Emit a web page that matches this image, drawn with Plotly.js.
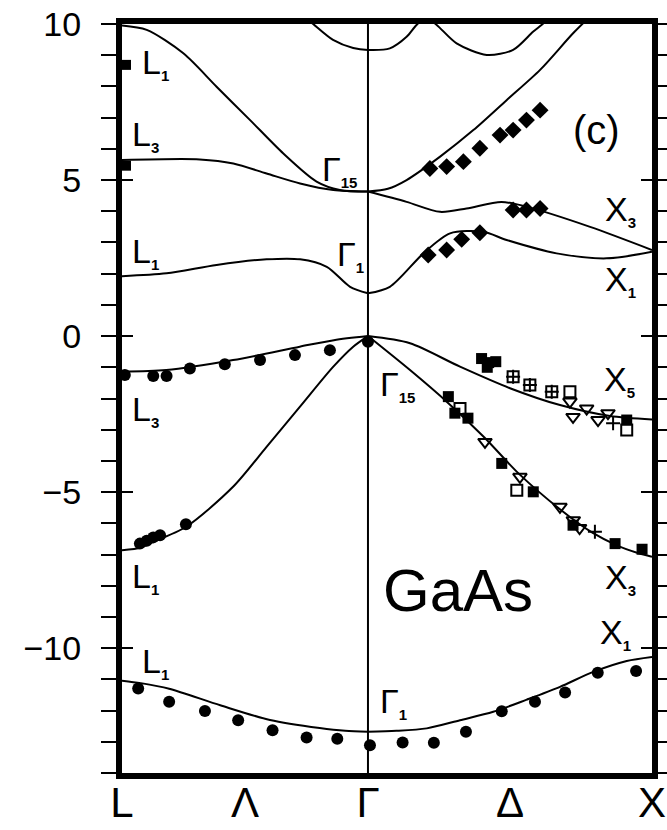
<!DOCTYPE html>
<html>
<head>
<meta charset="utf-8">
<script src="https://cdn.plot.ly/plotly-3.0.1.min.js"></script>
<style>
html,body{margin:0;padding:0;background:#fff;}
#chart{width:667px;height:830px;}
</style>
</head>
<body>
<div id="chart"></div>
<script>
// ---- symmetry points (k in units of 2pi/a, Gamma at 0) ----
const symX = [-0.866, -0.433, 0, 0.5, 1];
const symLabels = ['L', 'Λ', 'Γ', 'Δ', 'X'];
const yTickVals = [-10, -5, 0, 5, 10];

// ---- calculated bands (eV) ----
const v1Lx = [-0.866, -0.80, -0.70, -0.52, -0.345, -0.17, -0.08, 0];
const v1Ly = [-11.04, -11.12, -11.3, -11.83, -12.3, -12.56, -12.65, -12.68];
const v1Rx = [0, 0.10, 0.207, 0.324, 0.441, 0.559, 0.676, 0.793, 0.911, 1];
const v1Ry = [-12.68, -12.65, -12.57, -12.31, -12.04, -11.65, -11.24, -10.76, -10.41, -10.28];

const v2Lx = [-0.866, -0.80, -0.77, -0.64, -0.475, -0.357, -0.24, -0.122, -0.052, 0];
const v2Ly = [-6.86, -6.78, -6.65, -6.11, -4.83, -3.55, -2.27, -0.98, -0.34, 0];
const v2Rx = [0, 0.148, 0.283, 0.41, 0.53, 0.676, 0.79, 0.88, 0.95, 1];
const v2Ry = [0, -1.09, -2.15, -3.25, -4.4, -5.55, -6.3, -6.72, -6.95, -7.07];

const v3Lx = [-0.866, -0.71, -0.475, -0.24, -0.12, 0];
const v3Ly = [-1.14, -1.09, -0.77, -0.34, -0.13, 0];
const v3Rx = [0, 0.148, 0.324, 0.5, 0.676, 0.852, 1];
const v3Ry = [0, -0.23, -0.98, -1.67, -2.21, -2.56, -2.67];

const c1Lx = [-0.866, -0.709, -0.533, -0.357, -0.239, -0.145, -0.063, 0];
const c1Ly = [1.92, 2.01, 2.28, 2.46, 2.46, 2.22, 1.58, 1.37];
const c1Rx = [0, 0.077, 0.195, 0.289, 0.406, 0.488, 0.664, 0.84, 1];
const c1Ry = [1.37, 1.58, 2.65, 3.29, 3.34, 3.08, 2.65, 2.49, 2.70];

const c2Rx = [0, 0.136, 0.254, 0.347, 0.47, 0.56, 0.782, 1];
const c2Ry = [4.63, 4.30, 3.98, 4.09, 4.30, 4.14, 3.50, 2.76];

const c3Lx = [-0.866, -0.592, -0.474, -0.357, -0.239, -0.122, 0];
const c3Ly = [5.64, 5.66, 5.53, 5.21, 4.89, 4.68, 4.63];
const c3Rx = [0, 0.07, 0.136, 0.254, 0.371, 0.488, 0.606, 0.723, 0.80];
const c3Ry = [4.63, 4.72, 5.0, 5.75, 6.60, 7.56, 8.53, 9.71, 10.4];

const c4Lx = [-0.866, -0.779, -0.65, -0.533, -0.415, -0.298, -0.181, -0.099, 0];
const c4Ly = [9.95, 9.81, 9.06, 7.99, 6.92, 5.85, 4.95, 4.68, 4.63];

const c5x = [-0.22, -0.193, -0.123, -0.052, 0, 0.077, 0.136, 0.171, 0.205, 0.242, 0.312, 0.418, 0.511, 0.581, 0.611, 0.64];
const c5y = [10.2, 10.0, 9.49, 9.23, 9.17, 9.22, 9.59, 9.97, 10.2, 9.97, 9.38, 9.01, 9.17, 9.75, 9.97, 10.2];

// ---- experimental points ----
const circX = [-0.856, -0.756, -0.709, -0.627, -0.504, -0.380, -0.257, -0.134, 0.0,
               -0.867, -0.803, -0.779, -0.756, -0.732, -0.641,
               -0.809, -0.700, -0.574, -0.457, -0.336, -0.216, -0.108, 0.007, 0.122, 0.232, 0.345, 0.471, 0.588, 0.694, 0.809, 0.944];
const circY = [-1.25, -1.28, -1.28, -1.04, -0.90, -0.77, -0.61, -0.45, -0.18,
               -6.65, -6.65, -6.56, -6.45, -6.38, -6.03,
               -11.29, -11.72, -12.01, -12.31, -12.63, -12.86, -12.90, -13.11, -13.02, -13.03, -12.68, -12.02, -11.72, -11.42, -10.79, -10.73];

const diaX = [0.218, 0.277, 0.336, 0.394, 0.465, 0.511, 0.558, 0.606, 0.511, 0.558, 0.606, 0.212, 0.277, 0.330, 0.394];
const diaY = [5.37, 5.43, 5.59, 6.02, 6.44, 6.60, 6.92, 7.24, 4.04, 4.04, 4.09, 2.60, 2.76, 3.10, 3.31];

const edgeX = [-0.852, -0.852];
const edgeY = [8.69, 5.46];

const sqFillX = [0.400, 0.425, 0.450, 0.420, 0.911, 0.283, 0.306, 0.352, 0.471, 0.582, 0.722, 0.870, 0.965];
const sqFillY = [-0.72, -0.85, -0.82, -1.00, -2.69, -1.94, -2.47, -2.63, -4.08, -4.99, -6.06, -6.65, -6.83];
const sqOpenX = [0.511, 0.570, 0.647, 0.711, 0.911, 0.324, 0.524];
const sqOpenY = [-1.30, -1.57, -1.78, -1.78, -3.01, -2.32, -4.94];
const triX = [0.711, 0.722, 0.770, 0.810, 0.845, 0.412, 0.535, 0.676, 0.723, 0.745];
const triY = [-2.10, -2.59, -2.32, -2.69, -2.47, -3.39, -4.51, -5.47, -5.90, -6.15];
const crossX = [0.511, 0.570, 0.647, 0.863, 0.799];
const crossY = [-1.30, -1.57, -1.78, -2.79, -6.27];

// ---- labels ----
const labelTexts = ['L|1', 'L|3', 'Γ|15', 'L|1', 'Γ|1', 'X|3', 'X|1', 'X|5', 'Γ|15', 'L|3', 'L|1', 'X|3', 'X|1', 'L|1', 'Γ|1'];
const labelX = [-0.803, -0.838, -0.169, -0.838, -0.116, 0.827, 0.827, 0.824, 0.035, -0.838, -0.838, 0.827, 0.810, -0.803, 0.035];
const labelY = [8.75, 6.42, 5.30, 2.67, 2.58, 4.02, 1.77, -1.43, -1.59, -2.39, -7.74, -7.78, -9.54, -10.47, -11.75];

const FONT = 'Liberation Sans, Arial, sans-serif';

function band(x, y, axis) {
  const t = {x: x, y: y, mode: 'lines', type: 'scatter', hoverinfo: 'skip',
    line: {color: 'black', width: 2, shape: 'spline', smoothing: 0.8}, showlegend: false};
  if (axis) t.yaxis = axis;
  return t;
}
function pts(x, y, symbol, size, lw) {
  return {x: x, y: y, mode: 'markers', type: 'scatter', showlegend: false, hoverinfo: 'skip', cliponaxis: false,
    marker: {symbol: symbol, size: size, color: 'black', line: {color: 'black', width: lw || 0}}};
}

const traces = [
  band(v1Lx, v1Ly, 'y2'), band(v1Rx, v1Ry),
  band(v2Lx, v2Ly), band(v2Rx, v2Ry),
  band(v3Lx, v3Ly), band(v3Rx, v3Ry),
  band(c1Lx, c1Ly), band(c1Rx, c1Ry),
  band(c2Rx, c2Ry),
  band(c3Lx, c3Ly), band(c3Rx, c3Ry),
  band(c4Lx, c4Ly),
  band(c5x, c5y),
  pts(circX, circY, 'circle', 12),
  pts(diaX, diaY, 'diamond', 13),
  pts(edgeX, edgeY, 'square', 10),
  pts(sqFillX, sqFillY, 'square', 11),
  pts(sqOpenX, sqOpenY, 'square-open', 11, 2),
  pts(triX, triY, 'triangle-down-open', 12, 2),
  pts(crossX, crossY, 'cross-thin-open', 10, 2)
];

function subLabel(s) {
  const p = s.split('|');
  return p[0] + '<sub><span style="font-size:15px;font-weight:bold">' + p[1] + '</span></sub>';
}

const annotations = labelTexts.map((t, i) => ({
  x: labelX[i], y: labelY[i], xref: 'x', yref: 'y', text: subLabel(t), showarrow: false,
  xanchor: 'left', yanchor: 'middle', font: {family: FONT, size: 34, color: 'black'}
}));
annotations.push({x: 0.317, y: -8.14, xref: 'x', yref: 'y', text: 'GaAs', showarrow: false,
  xanchor: 'center', yanchor: 'middle', font: {family: FONT, size: 60, color: 'black'}});
annotations.push({x: 0.803, y: 6.6, xref: 'x', yref: 'y', text: '(c)', showarrow: false,
  xanchor: 'center', yanchor: 'middle', font: {family: FONT, size: 40, color: 'black'}});

const layout = {
  width: 667, height: 830,
  margin: {l: 122, r: 15, t: 24, b: 57, pad: 0},
  paper_bgcolor: 'white', plot_bgcolor: 'white',
  showlegend: false,
  xaxis: {
    range: [symX[0], symX[4]], tickvals: symX, ticktext: symLabels, ticks: '',
    showgrid: false, zeroline: false, showline: true, mirror: true, linewidth: 6, linecolor: 'black',
    tickfont: {family: FONT, size: 42, color: 'black'}, ticklabelstandoff: -12, fixedrange: true
  },
  yaxis: {
    range: [-14, 10], tickvals: yTickVals, ticks: 'outside', ticklen: 15, tickwidth: 2, tickcolor: 'black',
    minor: {dtick: 1, ticks: 'outside', ticklen: 15, tickwidth: 2, tickcolor: 'black'},
    showgrid: false, zeroline: false, showline: true, mirror: 'ticks', linewidth: 6, linecolor: 'black',
    tickfont: {family: FONT, size: 34, color: 'black'}, ticklabelstandoff: 13, fixedrange: true
  },
  yaxis2: {
    overlaying: 'y', matches: 'y', side: 'left', tickvals: yTickVals, ticks: 'inside', ticklen: 11, tickwidth: 2,
    tickcolor: 'black', showticklabels: false, showgrid: false, zeroline: false, showline: false, mirror: 'ticks',
    fixedrange: true
  },
  shapes: [{type: 'line', xref: 'x', yref: 'paper', x0: symX[2], x1: symX[2], y0: 0, y1: 1,
    line: {color: 'black', width: 2}, layer: 'below'}],
  annotations: annotations
};

Plotly.newPlot('chart', traces, layout, {staticPlot: true, displayModeBar: false});
</script>
</body>
</html>
